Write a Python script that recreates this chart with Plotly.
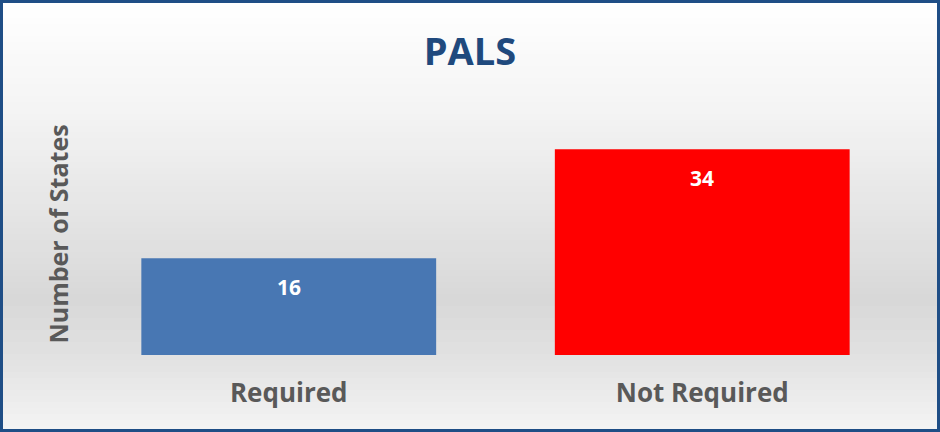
import plotly.graph_objects as go

categories = ["Required", "Not Required"]
values = [16, 34]
bar_colors = ["#4877b3", "#ff0000"]
title_text = "PALS"
y_title = "Number of States"

W, H = 940, 432
L, R, T, B = 82, 31, 113, 77
pw, ph = W - L - R, H - T - B

def px_x(x):
    return (x - L) / pw

def px_y(y):
    return (H - B - y) / ph

fig = go.Figure()
fig.add_trace(go.Bar(
    x=categories, y=values,
    marker=dict(color=bar_colors, line=dict(width=0)),
    width=0.713, hoverinfo="skip",
))

shapes = []
stops = [(0, (255, 255, 255)), (110, (244, 244, 244)), (300, (216, 216, 216)),
         (360, (226, 226, 226)), (432, (245, 245, 245))]
def col_at(y):
    for (y0, c0), (y1, c1) in zip(stops, stops[1:]):
        if y0 <= y <= y1:
            t = (y - y0) / (y1 - y0)
            return tuple(round(a + (b - a) * t) for a, b in zip(c0, c1))
    return stops[-1][1]
step = 6
for y in range(0, H, step):
    c = col_at(y + step / 2)
    shapes.append(dict(type="rect", xref="paper", yref="paper", layer="below",
                       x0=px_x(0), x1=px_x(W), y0=px_y(y), y1=px_y(y + step + 1),
                       fillcolor="rgb(%d,%d,%d)" % c, line=dict(width=0)))
shapes.append(dict(type="rect", xref="paper", yref="paper", layer="above",
                   x0=px_x(1.5), x1=px_x(W - 1.5), y0=px_y(1.5), y1=px_y(H - 1.5),
                   line=dict(color="#1f4e86", width=3), fillcolor="rgba(0,0,0,0)"))

annotations = [dict(x=c, y=v, xref="x", yref="y", text="<b>%d</b>" % v,
                    showarrow=False, yshift=-29,
                    font=dict(family="Open Sans", size=21, color="white"))
               for c, v in zip(categories, values)]

fig.update_layout(
    width=W, height=H,
    margin=dict(l=L, r=R, t=T, b=B, pad=0),
    paper_bgcolor="#f0f0f0", plot_bgcolor="rgba(0,0,0,0)",
    title=dict(text="<b>%s</b>" % title_text, x=0.5, xanchor="center",
               y=1 - 52 / H, yanchor="middle",
               font=dict(family="Open Sans", size=38, color="#1f497d")),
    xaxis=dict(showgrid=False, showline=False, zeroline=False, ticks="",
               tickfont=dict(family="Open Sans", size=26, color="#595959"),
               ticklabelstandoff=20),
    yaxis=dict(range=[0, 40], showgrid=False, showline=False, zeroline=False,
               showticklabels=False, ticks="",
               title=dict(text="<b>%s</b>" % y_title, standoff=5,
                          font=dict(family="Open Sans", size=25, color="#595959"))),
    shapes=shapes, annotations=annotations, showlegend=False,
)
fig.update_xaxes(tickprefix="<b>", ticksuffix="</b>")
fig.write_html("out.html", config={"displayModeBar": False},
               post_script="document.body.style.margin='0';document.body.style.padding='0';")
